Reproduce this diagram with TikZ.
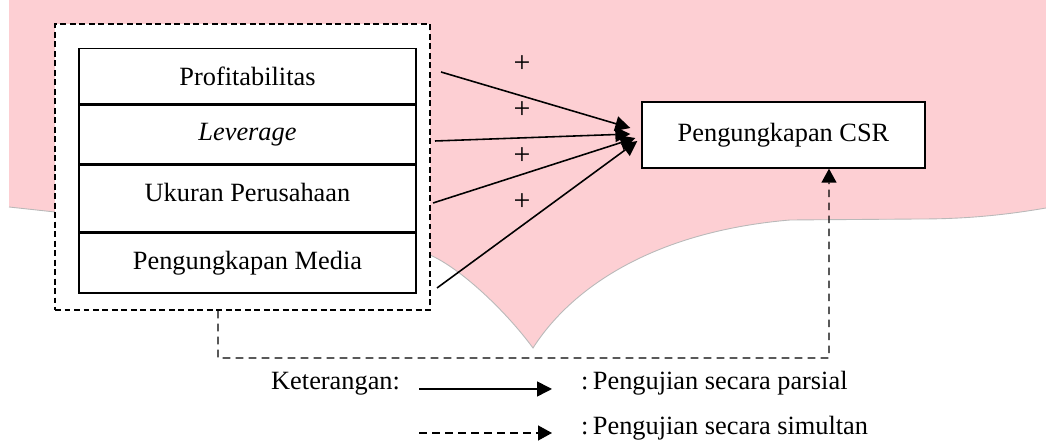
\documentclass[tikz,border=0pt]{standalone}
\usepackage{fontspec}
\setmainfont{Liberation Serif}
\usetikzlibrary{positioning,arrows.meta}

\definecolor{bgpink}{RGB}{253,207,211}

\tikzset{
  txt/.style={font=\fontsize{15}{18}\selectfont},
  varbox/.style={txt, draw, fill=white, line width=0.8pt, minimum width=6.74cm, inner sep=0pt},
  grpbox/.style={draw, fill=white, line width=0.8pt, dash pattern=on 3.4pt off 2pt,
    minimum width=7.5cm, minimum height=5.72cm, inner sep=0pt},
  parsial/.style={line width=0.9pt, -{Triangle[length=0.3cm,width=0.3cm]}},
  simultan/.style={line width=0.8pt, dash pattern=on 4.4pt off 3pt, -{Triangle[length=0.28cm,width=0.3cm]}}
}

\begin{document}
\begin{tikzpicture}[x=0.02cm, y=-0.02cm]
\useasboundingbox (0,0) rectangle (1046,445);

% Pink background
\fill[bgpink] (9,0) -- (1046,0) -- (1046,208)
  .. controls (1000,216) and (960,219) .. (920,219) -- (790,220)
  .. controls (650,232) and (570,290) .. (533,348)
  .. controls (505,310) and (460,268) .. (430,255)
  -- (55,212) -- (9,207) -- cycle;
\draw[gray!55, line width=0.5pt] (1046,208)
  .. controls (1000,216) and (960,219) .. (920,219) -- (790,220)
  .. controls (650,232) and (570,290) .. (533,348)
  .. controls (505,310) and (460,268) .. (430,255);
\draw[gray!55, line width=0.5pt] (9,207) -- (55,212);

% Group of independent variables
\node[grpbox] (grp) at (242.5,167) {};

\node[varbox, minimum height=1.10cm, anchor=north] (prof) at (247.5,48) {Profitabilitas};
\node[varbox, minimum height=1.18cm, below=0pt of prof] (lev) {\textit{Leverage}};
\node[varbox, minimum height=1.32cm, below=0pt of lev] (uk) {\raisebox{7.4pt}{Ukuran Perusahaan}};
\node[varbox, minimum height=1.20cm, below=0pt of uk] (med) {Pengungkapan Media};

% Dependent variable
\node[varbox, minimum width=5.66cm, minimum height=1.32cm] (csr) at (783.5,135) {Pengungkapan CSR};

% Start points of partial arrows
\coordinate (s1) at (441,72);
\coordinate (s2) at (435,141);
\coordinate (s3) at (433,203);
\coordinate (s4) at (437,288);

% Partial tests
\draw[parsial] (s1) -- ([shift={(-11,-7)}]csr.west);
\draw[parsial] (s2) -- ([shift={(-11,-1)}]csr.west);
\draw[parsial] (s3) -- ([shift={(-6,3)}]csr.west);
\draw[parsial] (s4) -- ([shift={(-4,6)}]csr.west);

\foreach \y/\n in {64/1,110/2,156/3,202/4}
  \node[font=\fontsize{17}{18}\selectfont] (plus\n) at (522,\y) {+};

% Simultaneous test
\coordinate (g0) at (grp.south -| 218,0);
\coordinate (g1) at (218,358);
\coordinate (g2) at (829,358);
\draw[simultan] (g0) -- (g1) -- (g2) -- ([xshift=45.5*0.02cm]csr.south);

% Legend
\node[txt, anchor=base west] (ket) at (265,390) {Keterangan:};
\coordinate (l1a) at (419,389);
\coordinate (l1b) at (552,389);
\draw[parsial] (l1a) -- (l1b);
\node[txt, anchor=base west] (lp) at (575,390) {:\,Pengujian secara parsial};

\coordinate (l2a) at (419,433);
\coordinate (l2b) at (552,433);
\draw[simultan] (l2a) -- (l2b);
\node[txt, anchor=base west] (ls) at (575,435) {:\,Pengujian secara simultan};

\end{tikzpicture}
\end{document}
